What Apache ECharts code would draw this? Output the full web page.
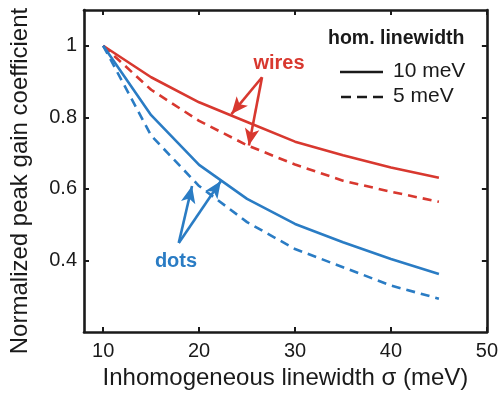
<!DOCTYPE html>
<html>
<head>
<meta charset="utf-8">
<script src="https://cdn.jsdelivr.net/npm/echarts@6/dist/echarts.min.js"></script>
<style>
  html, body { margin: 0; padding: 0; background: #fff; }
  #chart { width: 501px; height: 395px; }
</style>
</head>
<body>
<div id="chart"></div>
<script>
// Inhomogeneous linewidth sigma (meV)
const sigma = [10, 15, 20, 25, 30, 35, 40, 45];

// Normalized peak gain coefficient
const wires10 = [1, 0.912, 0.842, 0.787, 0.732, 0.694, 0.660, 0.631];
const wires5  = [1, 0.877, 0.790, 0.722, 0.668, 0.623, 0.592, 0.564];
const dots10  = [1, 0.806, 0.667, 0.572, 0.502, 0.451, 0.404, 0.362];
const dots5   = [1, 0.749, 0.608, 0.507, 0.432, 0.381, 0.330, 0.293];

const xTicks = [10, 20, 30, 40, 50];
const yTicks = [0.4, 0.6, 0.8, 1];

// Annotation arrows (data coordinates): [from, to]
const wireArrows = [
  [[26.56, 0.912], [23.37, 0.809]],
  [[26.56, 0.912], [25.19, 0.721]]
];
const dotArrows = [
  [[17.88, 0.449], [19.26, 0.608]],
  [[17.88, 0.449], [22.27, 0.622]]
];

const RED = '#d8382f';
const BLUE = '#2a7cc4';
const INK = '#1a1a1a';
const FONT = '"Liberation Sans", Arial, Helvetica, sans-serif';

const pairs = ys => sigma.map((x, i) => [x, ys[i]]);

function arrowMark(list, color) {
  return {
    silent: true,
    symbol: ['none', 'arrow'],
    symbolSize: [11, 17],
    label: { show: false },
    lineStyle: { color: color, width: 2.6, type: 'solid' },
    emphasis: { disabled: true },
    data: list.map(([a, b]) => [{ coord: a }, { coord: b }])
  };
}

function lineSeries(name, ys, color, dashed, marks) {
  const s = {
    name: name,
    type: 'line',
    data: pairs(ys),
    showSymbol: false,
    symbol: 'none',
    lineStyle: { color: color, width: 2.6, type: dashed ? [9, 6] : 'solid' },
    z: 3
  };
  if (marks) s.markLine = marks;
  return s;
}

const tickStyle = { show: true, inside: true, length: 5, lineStyle: { color: INK, width: 2 } };
const lineAxis = { show: true, lineStyle: { color: INK, width: 2.6 } };

const chart = echarts.init(document.getElementById('chart'), null, { renderer: 'canvas' });

chart.setOption({
  animation: false,
  backgroundColor: '#fff',
  textStyle: { fontFamily: FONT },
  grid: { left: 82, right: 11, top: 10, bottom: 63, containLabel: false },
  xAxis: [
    {
      type: 'value', min: 8, max: 50, position: 'bottom',
      axisLine: lineAxis,
      axisTick: Object.assign({ customValues: xTicks }, tickStyle),
      axisLabel: { customValues: xTicks, color: INK, fontSize: 20, margin: 9, fontFamily: FONT },
      splitLine: { show: false },
      name: 'Inhomogeneous linewidth σ (meV)',
      nameLocation: 'middle', nameGap: 31,
      nameTextStyle: { color: INK, fontSize: 24, fontFamily: FONT }
    },
    {
      type: 'value', min: 8, max: 50, position: 'top',
      axisLine: lineAxis,
      axisTick: Object.assign({ customValues: xTicks }, tickStyle),
      axisLabel: { show: false },
      splitLine: { show: false }
    }
  ],
  yAxis: [
    {
      type: 'value', min: 0.2, max: 1.1, position: 'left',
      axisLine: lineAxis,
      axisTick: Object.assign({ customValues: yTicks }, tickStyle),
      axisLabel: {
        customValues: yTicks, color: INK, fontSize: 20, margin: 7, fontFamily: FONT,
        formatter: v => (Math.abs(v - 1) < 1e-9 ? '1' : v.toFixed(1))
      },
      splitLine: { show: false },
      name: 'Normalized peak gain coefficient',
      nameLocation: 'middle', nameGap: 52, nameRotate: 90,
      nameTextStyle: { color: INK, fontSize: 24, fontFamily: FONT, padding: [0, 20, 0, 0] }
    },
    {
      type: 'value', min: 0.2, max: 1.1, position: 'right',
      axisLine: lineAxis,
      axisTick: Object.assign({ customValues: yTicks }, tickStyle),
      axisLabel: { show: false },
      splitLine: { show: false }
    }
  ],
  series: [
    lineSeries('wires 10 meV', wires10, RED, false, arrowMark(wireArrows, RED)),
    lineSeries('wires 5 meV', wires5, RED, true),
    lineSeries('dots 10 meV', dots10, BLUE, false, arrowMark(dotArrows, BLUE)),
    lineSeries('dots 5 meV', dots5, BLUE, true)
  ],
  graphic: [
    // legend
    { type: 'text', left: 328, top: 29, style: { text: 'hom. linewidth', fill: INK, font: 'bold 19.5px ' + FONT } },
    { type: 'line', shape: { x1: 340, y1: 72, x2: 383, y2: 72 }, style: { stroke: INK, lineWidth: 2.6 } },
    { type: 'text', left: 393, top: 61, style: { text: '10 meV', fill: INK, font: '21px ' + FONT } },
    { type: 'line', shape: { x1: 341, y1: 97, x2: 383, y2: 97 }, style: { stroke: INK, lineWidth: 2.6, lineDash: [10, 6] } },
    { type: 'text', left: 393, top: 86, style: { text: '5 meV', fill: INK, font: '21px ' + FONT } },
    // curve family labels
    { type: 'text', x: 279, y: 63, style: { text: 'wires', fill: RED, font: 'bold 20px ' + FONT, align: 'center', verticalAlign: 'middle' } },
    { type: 'text', x: 176, y: 261, style: { text: 'dots', fill: BLUE, font: 'bold 20px ' + FONT, align: 'center', verticalAlign: 'middle' } }
  ]
});
</script>
</body>
</html>
